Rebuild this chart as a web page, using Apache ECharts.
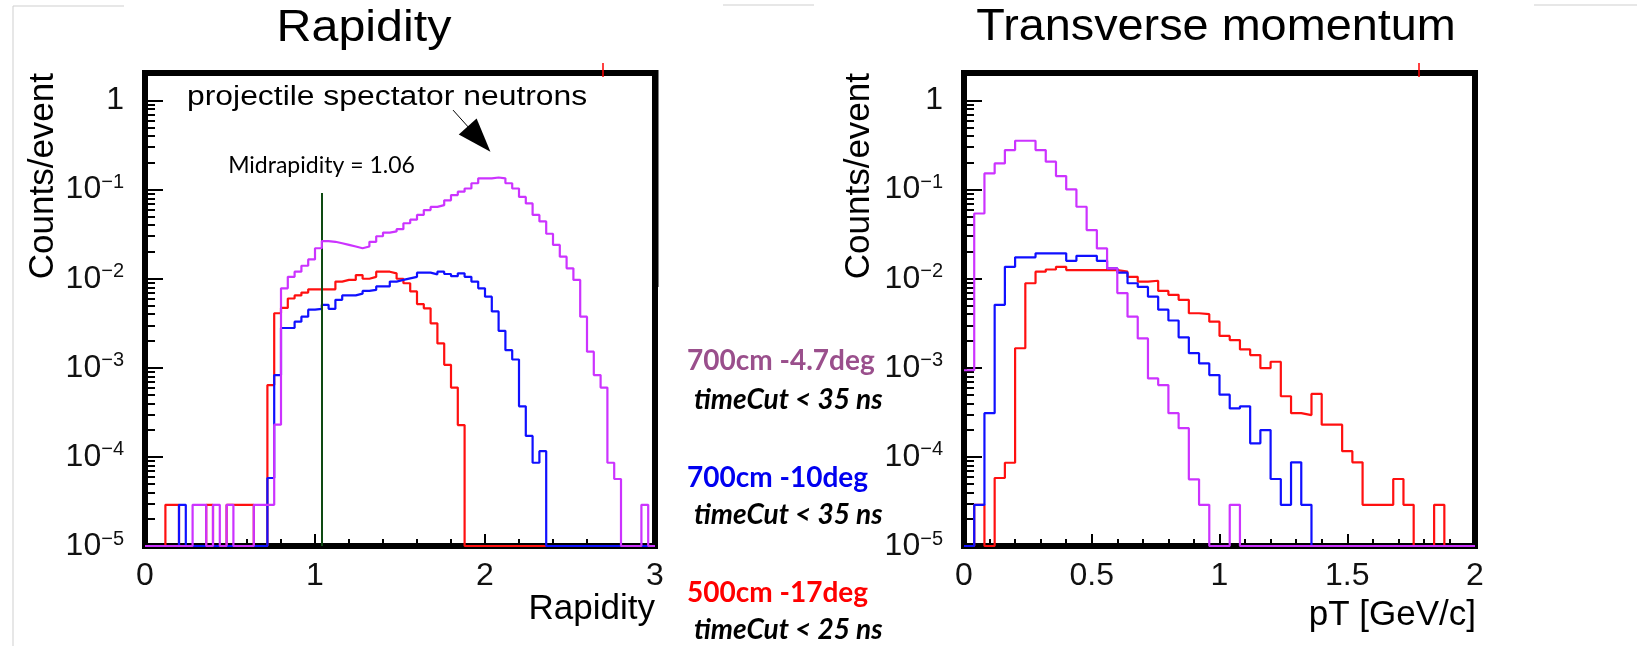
<!DOCTYPE html>
<html><head><meta charset="utf-8">
<script src="https://cdn.jsdelivr.net/npm/echarts@6/dist/echarts.min.js"></script>
<style>html,body{margin:0;padding:0;background:#fff}#c{width:1637px;height:646px}</style>
</head><body><div id="c"></div>
<script>
// ---------- data ----------
// Rapidity histograms: 75 bins of width 0.04 from 0 to 3 (counts/event; 0 = empty bin)
const rapidityBinWidth = 0.04;
const rapidityRed = [0,0,0,2.9e-5,2.9e-5,0,0,0,0,2.9e-5,
  0,0,2.9e-5,2.9e-5,2.9e-5,2.9e-5,0,0,6.4e-4,4.1e-3,
  4.7e-3,6.0e-3,6.5e-3,7.0e-3,7.6e-3,7.6e-3,7.6e-3,7.6e-3,9.3e-3,9.7e-3,
  9.7e-3,1.1e-2,1.0e-2,1.05e-2,1.2e-2,1.2e-2,1.15e-2,1.0e-2,8.9e-3,7.2e-3,
  5.2e-3,4.66e-3,3.16e-3,1.88e-3,1.08e-3,6.0e-4,2.28e-4,0,0,0,
  0,0,0,0,0,0,0,0,0,0, 0,0,0,0,0,0,0,0,0,0, 0,0,0,0,0];
const rapidityBlue = [0,0,0,0,0,2.9e-5,0,0,0,0,
  0,0,0,0,0,0,0,0,5.8e-5,8.3e-4,
  2.8e-3,2.8e-3,3.3e-3,3.75e-3,4.5e-3,4.6e-3,5.1e-3,4.6e-3,5.8e-3,6.5e-3,
  6.5e-3,6.8e-3,7.3e-3,7.5e-3,8.2e-3,8.2e-3,9.3e-3,9.7e-3,1.01e-2,1.05e-2,
  1.17e-2,1.17e-2,1.12e-2,1.2e-2,1.13e-2,1.07e-2,1.15e-2,1.05e-2,9.3e-3,7.8e-3,
  6.3e-3,4.3e-3,2.6e-3,1.58e-3,1.24e-3,3.7e-4,1.72e-4,8.6e-5,1.16e-4,0,
  0,0,0,0,0,0,0,0,0,0, 0,0,0,0,0];
const rapidityMagenta = [0,0,0,0,0,0,0,2.9e-5,2.9e-5,0,
  2.9e-5,0,2.9e-5,0,0,0,2.9e-5,2.9e-5,2.9e-5,2.3e-4,
  7.8e-3,1.05e-2,1.2e-2,1.4e-2,1.65e-2,2.2e-2,2.65e-2,2.6e-2,2.5e-2,2.4e-2,
  2.3e-2,2.2e-2,2.3e-2,2.6e-2,3.0e-2,3.3e-2,3.4e-2,3.6e-2,4.2e-2,4.6e-2,
  5.2e-2,5.9e-2,6.4e-2,6.7e-2,7.6e-2,8.7e-2,9.5e-2,0.103,0.118,0.134,
  0.134,0.137,0.134,0.118,0.103,0.083,0.070,0.052,0.044,0.032,
  0.024,0.0177,0.0131,0.0097,3.75e-3,1.52e-3,8.3e-4,6.0e-4,8.6e-5,5.65e-5,
  0,0,0,2.9e-5,0];

// pT histograms: 50 bins of width 0.04 from 0 to 2 GeV/c
const ptBinWidth = 0.04;
const ptRed = [0,2.9e-5,0,5.8e-5,8.6e-5,1.66e-3,8.9e-3,1.2e-2,1.27e-2,1.36e-2,
  1.25e-2,1.25e-2,1.25e-2,1.25e-2,1.25e-2,1.2e-2,1.05e-2,9.3e-3,9.5e-3,7.3e-3,
  6.6e-3,5.8e-3,4.1e-3,4.0e-3,3.3e-3,2.28e-3,2.05e-3,1.61e-3,1.39e-3,9.9e-4,
  1.17e-3,4.8e-4,3.1e-4,2.95e-4,5.1e-4,2.3e-4,2.3e-4,1.16e-4,8.7e-5,2.9e-5,
  2.9e-5,2.9e-5,5.65e-5,2.9e-5,0,0,2.9e-5,0,0,0];
const ptBlue = [0,2.9e-5,3.1e-4,5.1e-3,1.36e-2,1.74e-2,1.74e-2,1.93e-2,1.93e-2,1.93e-2,
  1.59e-2,1.81e-2,1.81e-2,1.59e-2,1.31e-2,1.17e-2,8.9e-3,8.1e-3,6.3e-3,4.5e-3,
  3.4e-3,2.2e-3,1.46e-3,1.12e-3,8.3e-4,5.0e-4,3.5e-4,3.7e-4,1.42e-4,2.0e-4,
  5.65e-5,2.9e-5,8.7e-5,2.9e-5,0,0,0,0,0,0,
  0,0,0,0,0,0,0,0,0,0];
const ptMagenta = [9.4e-4,5.4e-2,0.152,0.197,0.278,0.354,0.354,0.278,0.206,0.142,
  0.1007,0.0643,0.0352,0.0219,0.0131,6.9e-3,3.75e-3,2.14e-3,7.6e-4,6.4e-4,
  3.1e-4,2.1e-4,5.6e-5,2.9e-5,0,0,2.9e-5,0,0,0,
  0,0,0,0,0,0,0,0,0,0, 0,0,0,0,0,0,0,0,0,0];

// axes
const yMin = 1e-5, yMax = 2.04;
const yMajorTicks = [1e-5, 1e-4, 1e-3, 1e-2, 1e-1, 1];
const rapidityRange = [0, 3], rapidityTickStep = 1;
const ptRange = [0, 2], ptTickStep = 0.5;
const midrapidity = 1.04;

const legendLines = [
  {text: '700cm -4.7deg', color: '#9a4f8c'},
  {text: 'timeCut < 35 ns', color: '#000'},
  {text: '700cm -10deg', color: '#0000f0'},
  {text: 'timeCut < 35 ns', color: '#000'},
  {text: '500cm -17deg', color: '#ff0000'},
  {text: 'timeCut < 25 ns', color: '#000'}
];

// ---------- build ----------
const FONT = '"Liberation Sans", Arial, Helvetica, sans-serif';
const RED = '#ff1010', BLUE = '#1010ff', MAG = '#cc33ff';

const yMinorTicks = [];
for (let e = -5; e <= 0; e++) for (let k = 2; k <= 9; k++) {
  const v = Number((k * Math.pow(10, e)).toPrecision(3));
  if (v <= yMax) yMinorTicks.push(v);
}

function histPoints(values, width) {
  const pts = values.map((v, i) => [Number((i * width).toFixed(4)), v > 0 ? v : yMin]);
  const last = values[values.length - 1];
  pts.push([Number((values.length * width).toFixed(4)), last > 0 ? last : yMin]);
  return pts;
}

function yAxes(g) {
  return [{
    type: 'log', gridIndex: g, min: yMin, max: yMax, logBase: 10, position: 'left',
    axisLine: {show: false}, splitLine: {show: false},
    axisTick: {show: true, inside: true, length: 18, lineStyle: {color: '#000', width: 2}, customValues: yMajorTicks},
    axisLabel: {
      show: true, customValues: yMajorTicks, margin: 21,
      formatter: v => {
        const n = Math.round(Math.log10(v));
        return n === 0 ? '{b|1}' : '{b|10}{e|\u2212' + (-n) + '}';
      },
      rich: {
        b: {fontSize: 32, fontFamily: FONT, color: '#111', lineHeight: 34},
        e: {fontSize: 20, fontFamily: FONT, color: '#111', verticalAlign: 'top', lineHeight: 22}
      }
    }
  }, {
    type: 'log', gridIndex: g, min: yMin, max: yMax, logBase: 10, position: 'left',
    axisLine: {show: false}, splitLine: {show: false}, axisLabel: {show: false},
    axisTick: {show: true, inside: true, length: 10, lineStyle: {color: '#000', width: 2}, customValues: yMinorTicks}
  }];
}

function xAxis(g, range, step) {
  return {
    type: 'value', gridIndex: g, min: range[0], max: range[1], interval: step,
    axisLine: {show: false}, splitLine: {show: false},
    axisTick: {show: true, inside: true, length: 12, lineStyle: {color: '#000', width: 2}},
    minorTick: {show: true, splitNumber: 5, length: 7, lineStyle: {color: '#000', width: 2}},
    axisLabel: {margin: 14, fontSize: 32, color: '#111', fontFamily: FONT}
  };
}

function hist(name, values, width, color, xi, yi, z, extra) {
  return Object.assign({
    name, type: 'line', xAxisIndex: xi, yAxisIndex: yi,
    data: histPoints(values, width), step: 'end',
    showSymbol: false, symbol: 'none', clip: false, z, silent: true,
    lineStyle: {color, width: 2.2}, itemStyle: {color}
  }, extra || {});
}

const leftMarks = {
  markLine: {
    silent: true, animation: false, symbol: ['none', 'none'], label: {show: false},
    data: [
      [{coord: [midrapidity, 0.0916], lineStyle: {color: '#0e4a12', width: 2, type: 'solid'}},
       {coord: [midrapidity, yMin]}],
      [{coord: [1.812, 0.782], symbol: 'none', lineStyle: {color: '#000', width: 1, type: 'solid'}, itemStyle: {color: '#000'}},
       {coord: [1.965, 0.37], symbol: 'triangle', symbolSize: [24, 34], itemStyle: {color: '#000'}}]
    ]
  }
};

function txt(x, y, text, o) {
  o = o || {};
  return {
    type: 'text', x, y, z: 50, silent: true,
    rotation: o.rotation || 0, scaleX: o.scaleX || 1,
    style: {
      text, fill: o.color || '#000',
      fontSize: o.size || 20, fontFamily: o.family || FONT,
      fontWeight: o.weight || 'normal', fontStyle: o.style || 'normal',
      align: o.align || 'left', textAlign: o.align || 'left',
      verticalAlign: 'middle', textVerticalAlign: 'middle'
    }
  };
}
function gline(x1, y1, x2, y2, color, w) {
  return {type: 'line', z: 50, silent: true, shape: {x1, y1, x2, y2}, style: {stroke: color, lineWidth: w}};
}

const legendY = [361, 400, 478, 515, 593, 630];
const graphics = [
  gline(13, 6, 124, 6, '#cfcfcf', 1), gline(13, 6, 13, 646, '#cfcfcf', 1),
  gline(723, 5, 814, 5, '#cfcfcf', 1), gline(1534, 5, 1637, 5, '#cfcfcf', 1),
  gline(603, 63, 603, 77, '#ff0000', 1.5), gline(1419, 63, 1419, 77, '#ff0000', 1.5),
  gline(656.5, 70, 656.5, 287, '#000', 4),
  txt(364, 29, 'Rapidity', {size: 44, align: 'center', scaleX: 1.1}),
  txt(1216, 28, 'Transverse momentum', {size: 45, align: 'center', scaleX: 1.04}),
  txt(655, 609, 'Rapidity', {size: 35, align: 'right'}),
  txt(1476, 615, 'pT [GeV/c]', {size: 35, align: 'right'}),
  txt(43, 73, 'Counts/event', {size: 35, align: 'right', rotation: Math.PI / 2}),
  txt(859, 73, 'Counts/event', {size: 35, align: 'right', rotation: Math.PI / 2}),
  txt(187, 98, 'projectile spectator neutrons', {size: 27, scaleX: 1.18}),
  txt(321.5, 166, 'Midrapidity = 1.06', {size: 23, align: 'center', family: 'Lato'})
];
legendLines.forEach((l, i) => {
  const isCut = l.text.indexOf('timeCut') === 0;
  graphics.push(txt(isCut ? 694 : 687, legendY[i], l.text, {
    size: 28, family: 'Lato', weight: 'bold', style: isCut ? 'italic' : 'normal', color: l.color
  }));
});

const gridBase = {show: true, borderColor: '#000', borderWidth: 6, backgroundColor: 'transparent',
  containLabel: false, outerBoundsMode: 'none'};

const chart = echarts.init(document.getElementById('c'), null, {renderer: 'canvas'});
chart.setOption({
  animation: false,
  backgroundColor: '#fff',
  textStyle: {fontFamily: FONT},
  grid: [
    Object.assign({left: 145, top: 73, width: 510, height: 473}, gridBase),
    Object.assign({left: 964, top: 73, width: 511, height: 473}, gridBase)
  ],
  xAxis: [xAxis(0, rapidityRange, rapidityTickStep), xAxis(1, ptRange, ptTickStep)],
  yAxis: [...yAxes(0), ...yAxes(1)],
  series: [
    hist('500cm -17deg', rapidityRed, rapidityBinWidth, RED, 0, 0, 3),
    hist('700cm -10deg', rapidityBlue, rapidityBinWidth, BLUE, 0, 0, 4),
    hist('700cm -4.7deg', rapidityMagenta, rapidityBinWidth, MAG, 0, 0, 5, leftMarks),
    hist('500cm -17deg', ptRed, ptBinWidth, RED, 1, 2, 3),
    hist('700cm -10deg', ptBlue, ptBinWidth, BLUE, 1, 2, 4),
    hist('700cm -4.7deg', ptMagenta, ptBinWidth, MAG, 1, 2, 5)
  ],
  graphic: graphics
});
</script></body></html>
